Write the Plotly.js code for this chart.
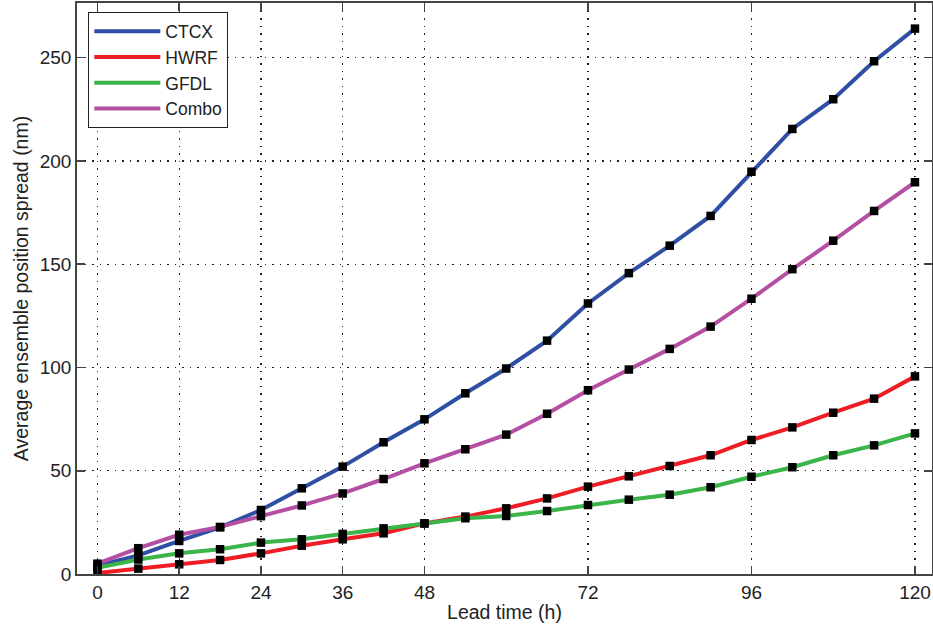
<!DOCTYPE html>
<html>
<head>
<meta charset="utf-8">
<script src="https://cdn.plot.ly/plotly-3.0.1.min.js"></script>
<style>html,body{margin:0;padding:0;background:#fff;}#chart{width:933px;height:630px;}</style>
</head>
<body>
<div id="chart"></div>
<script>
const leadTime = [0, 6, 12, 18, 24, 30, 36, 42, 48, 54, 60, 66, 72, 78, 84, 90, 96, 102, 108, 114, 120];
const ctcx  = [4, 9, 16, 22.6, 31, 41.5, 52, 63.8, 74.9, 87.5, 99.5, 113, 131, 145.7, 159, 173.4, 194.8, 215.5, 229.9, 248.3, 264.1];
const hwrf  = [0.5, 2.6, 4.7, 6.8, 10, 13.7, 16.8, 19.7, 24.5, 27.8, 31.8, 36.6, 42.3, 47.3, 52.3, 57.5, 64.9, 71, 78.1, 84.9, 95.7];
const gfdl  = [3, 7, 10, 12, 15.2, 16.8, 19.4, 22.1, 24.5, 27, 28.1, 30.5, 33.4, 36, 38.4, 42, 47.1, 51.7, 57.5, 62.3, 68.1];
const combo = [5, 12.5, 19, 22.8, 28, 33.2, 39, 46, 53.6, 60.4, 67.5, 77.6, 89, 99, 109, 119.8, 133.3, 147.6, 161.4, 175.8, 189.7];
const seriesNames = ['CTCX', 'HWRF', 'GFDL', 'Combo'];
const seriesValues = [ctcx, hwrf, gfdl, combo];
const seriesColors = ['#2E4FA3', '#EE1D25', '#3BB44A', '#B54FA3'];
const xTicks = [0, 12, 24, 36, 48, 72, 96, 120];
const yTicks = [0, 50, 100, 150, 200, 250];

const traces = [];
seriesNames.forEach((n, i) => {
  traces.push({
    x: leadTime, y: seriesValues[i], name: n, type: 'scatter', mode: 'lines',
    line: {color: seriesColors[i], width: 4}, showlegend: true
  });
});
seriesNames.forEach((n, i) => {
  traces.push({
    x: leadTime, y: seriesValues[i], name: n, type: 'scatter', mode: 'markers',
    marker: {symbol: 'square', size: 8.5, color: '#000'}, showlegend: false
  });
});

const FONT = 'Liberation Sans, Arial';
const axisCommon = {
  showline: true, linecolor: '#444', linewidth: 1.8, mirror: 'ticks',
  ticks: 'inside', ticklen: 8, tickcolor: '#444', tickwidth: 1.5,
  showgrid: true, gridcolor: '#222', gridwidth: 1.3, griddash: '1.5px,6px',
  zeroline: false, tickfont: {family: FONT, size: 19, color: '#222'}
};

const layout = {
  width: 933, height: 630,
  margin: {l: 77, r: 1, t: 3, b: 56},
  paper_bgcolor: '#fff', plot_bgcolor: '#fff',
  font: {family: FONT, color: '#222'},
  xaxis: Object.assign({}, axisCommon, {
    range: [-3, 122.5], tickmode: 'array', tickvals: xTicks, ticktext: xTicks.map(String),
    title: {text: 'Lead time (h)', font: {size: 19.5}, standoff: 4}
  }),
  yaxis: Object.assign({}, axisCommon, {
    range: [0, 276.5], tickmode: 'array', tickvals: yTicks, ticktext: yTicks.map(String),
    title: {text: 'Average ensemble position spread (nm)', font: {size: 19.5}, standoff: 6}
  }),
  legend: {
    x: 0.013, y: 0.984, xanchor: 'left', yanchor: 'top',
    bgcolor: '#fff', bordercolor: '#222', borderwidth: 1.2,
    font: {family: FONT, size: 17.5, color: '#222'},
    itemwidth: 66, tracegroupgap: 0
  },
  showlegend: true
};

Plotly.newPlot('chart', traces, layout, {displayModeBar: false, staticPlot: true});
</script>
</body>
</html>
